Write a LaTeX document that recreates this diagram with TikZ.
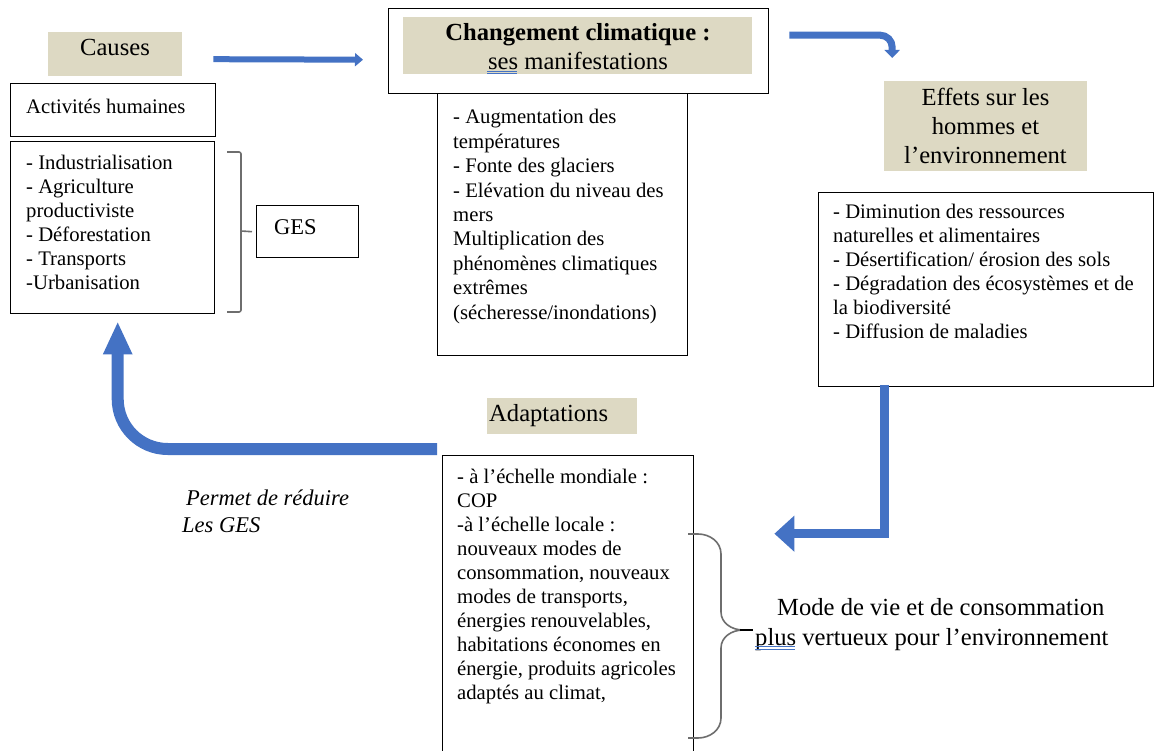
\documentclass[tikz,border=0pt]{standalone}
\usepackage{fontspec}
\setmainfont{Liberation Serif}
\usetikzlibrary{arrows.meta,calc}
\definecolor{tanbg}{HTML}{DDD9C3}
\definecolor{wblue}{HTML}{4472C4}
\definecolor{brgray}{HTML}{6E6E6E}
\newcommand\LftLines[2]{\vtop{\baselineskip=#1\lineskiplimit=-100pt\lineskip=0pt\halign{##\hfil\cr#2\crcr}}}
\newcommand\CtrLines[2]{\vtop{\baselineskip=#1\lineskiplimit=-100pt\lineskip=0pt\halign{\hfil##\hfil\cr#2\crcr}}}
\newcommand\txtS{\fontsize{20.7}{24}\selectfont}
\newcommand\txtL{\fontsize{24.6}{29}\selectfont}
\newcommand\txtM{\fontsize{22.5}{27}\selectfont}
\begin{document}
\begin{tikzpicture}[x=1pt,y=-1pt,
  box/.style={draw=black, line width=1.4pt, inner sep=0pt, anchor=north west},
  tanbox/.style={fill=tanbg, draw=none, inner sep=0pt, anchor=north west},
  txt/.style={inner sep=0pt, anchor=base west, text=black},
  ctxt/.style={inner sep=0pt, anchor=base, text=black},
  bracket/.style={draw=brgray, line width=1.6pt},
  squiggle/.style={draw=wblue, line width=0.7pt}]
\useasboundingbox (0,0) rectangle (1154,751);
\fill[white] (0,0) rectangle (1154,751);
\clip (0,0) rectangle (1154,751);

% ---- boxes ----
\node[tanbox, minimum width=134pt, minimum height=44pt] (causes) at (48,32) {};
\node[box, minimum width=205pt, minimum height=53pt] (act) at (10,83) {};
\node[box, minimum width=204pt, minimum height=172pt] (causelist) at (10,141) {};
\node[box, minimum width=102pt, minimum height=52pt] (ges) at (256,205) {};
\node[box, minimum width=380pt, minimum height=85pt] (cc) at (388,8) {};
\node[tanbox, minimum width=349pt, minimum height=57pt] (ccfill) at (403,17) {};
\node[box, minimum width=250pt, minimum height=262pt] (man) at (437,93) {};
\node[tanbox, minimum width=203pt, minimum height=90pt] (efftitle) at (884,81) {};
\node[box, minimum width=335pt, minimum height=194pt] (efflist) at (818,192) {};
\node[tanbox, minimum width=150pt, minimum height=36pt] (adaptitle) at (487,398) {};
\node[box, minimum width=251pt, minimum height=310pt] (adaplist) at (442,455) {};

% ---- texts ----
\node[ctxt] (tcauses) at (115,56) {\txtL Causes};
\node[txt] (tact) at (26,114) {\txtS Activités humaines};
\node[txt] (tcauselist) at (26,170) {\txtS\LftLines{24pt}{- Industrialisation\cr - Agriculture\cr productiviste\cr - Déforestation\cr - Transports\cr -Urbanisation}};
\node[txt] (tges) at (274,235) {\txtM GES};
\node[ctxt] (tcc) at (578,41) {\txtL\CtrLines{29pt}{\textbf{Changement climatique :}\cr ses manifestations}};
\node[txt] (tman) at (453,124) {\txtS\LftLines{24.4pt}{- Augmentation des\cr températures\cr - Fonte des glaciers\cr - Elévation du niveau des\cr mers\cr Multiplication des\cr phénomènes climatiques\cr extrêmes\cr (sécheresse/inondations)}};
\node[ctxt] (teff) at (985.5,106) {\txtL\CtrLines{28.7pt}{Effets sur les\cr hommes et\cr l’environnement}};
\node[txt] (tefflist) at (833,219) {\txtS\LftLines{24pt}{- Diminution des ressources\cr naturelles et alimentaires\cr - Désertification/ érosion des sols\cr - Dégradation des écosystèmes et de\cr la biodiversité\cr - Diffusion de maladies}};
\node[txt] (tadap) at (489,421) {\txtL Adaptations};
\node[txt] (tadaplist) at (457,483) {\txtS\LftLines{24pt}{- à l’échelle mondiale :\cr COP\cr -à l’échelle locale :\cr nouveaux modes de\cr consommation, nouveaux\cr modes de transports,\cr énergies renouvelables,\cr habitations économes en\cr énergie, produits agricoles\cr adaptés au climat,}};
\node[txt] (tpermet) at (186,505) {\txtM\itshape Permet de réduire};
\node[txt] (tlesges) at (182,532) {\txtM\itshape Les GES};
\node[txt] (tmode) at (777,615) {\txtL Mode de vie et de consommation};
\node[txt] (tplus) at (755,645) {\txtL plus vertueux pour l’environnement};

% grammar double underlines
\draw[squiggle] (487,71.3) -- (517,71.3) (487,73.8) -- (517,73.8);
\draw[squiggle] (755,646.4) -- (795,646.4) (755,648.9) -- (795,648.9);

% ---- bracket to GES ----
\draw[bracket, rounded corners=2pt] (227,152) -- (241,152) -- (241,312) -- (227,312);
\draw[bracket] (241,231) -- ($(ges.west)+(-4,0)$);

% ---- right curly brace ----
\draw[bracket] (688,534) -- (698,534) to[out=0,in=90] (721,554) -- (721,612)
   to[out=-90,in=180] (743,630);
\draw[bracket] (743,630) to[out=180,in=90] (721,648) -- (721,718)
   to[out=-90,in=0] (698,738) -- (688,738);
\draw[black, line width=2pt] (740,630) -- (753,630);

% ---- blue arrows ----
\draw[wblue, line width=6pt, -{Triangle[length=8pt,width=13pt]}]
  ($(causes.east)+(31,5)$) -- ($(cc.west)+(-25,8.5)$);
\draw[wblue, line width=7pt, rounded corners=12pt, -{Triangle[length=8pt,width=15pt]}]
  ($(cc.east)+(20,-16)$) -| ($(efftitle.north)+(-93.5,-23)$);
\draw[wblue, line width=9pt, line join=miter, -{Triangle[length=20pt,width=35pt]}]
  ($(efflist.south)+(-101.5,-2)$) |- ($(adaplist.east)+(80,-77)$);
\draw[wblue, line width=12pt, rounded corners=50pt, -{Triangle[length=33pt,width=27pt]}]
  ($(adaplist.north west)+(-5,-6)$) -| ($(causelist.south)+(5,7)$);
\end{tikzpicture}
\end{document}
